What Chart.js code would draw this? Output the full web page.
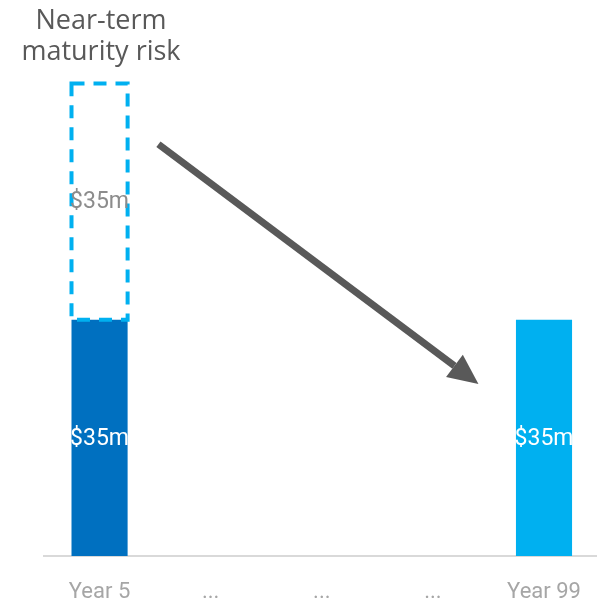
<!DOCTYPE html>
<html>
<head>
<meta charset="utf-8">
<script src="https://cdn.jsdelivr.net/npm/chart.js@4/dist/chart.umd.min.js"></script>
<style>
    html, body { margin: 0; padding: 0; background: #fff; overflow: hidden; }
    #wrap { position: relative; width: 597px; height: 602px; overflow: hidden; }
    #title {
        position: absolute; left: 0; top: 3px; width: 202px;
        text-align: center; font-family: "Open Sans", sans-serif;
        font-size: 27px; line-height: 31px; color: #595959;
    }
</style>
</head>
<body>
<div id="wrap">
    <canvas id="chart" width="604" height="602"></canvas>
    <div id="title">Near-term<br>maturity risk</div>
</div>
<script>
const categories = ["Year 5", "...", "...", "...", "Year 99"];
const fundedValues = [35, null, null, null, 35];
const riskValues = [35, null, null, null, null];
const barColors = ["#0070C0", "#0070C0", "#0070C0", "#0070C0", "#00B0F0"];
const valueLabels = ["$35m", "", "", "", "$35m"];
const riskLabels = ["$35m", "", "", "", ""];

// arrow from data space: [index, value]
const arrowFrom = [0.53, 61];
const arrowTo = [3.41, 25.5];

const dashedBars = {
    id: "dashedBars",
    afterDatasetsDraw(chart) {
        const ctx = chart.ctx;
        const meta = chart.getDatasetMeta(1);
        meta.data.forEach((bar, i) => {
            if (riskValues[i] == null) return;
            const { x, y, base, width } = bar.getProps(["x", "y", "base", "width"], true);
            ctx.save();
            ctx.strokeStyle = "#00B0F0";
            ctx.lineWidth = 4;
            ctx.setLineDash([13, 9]);
            ctx.strokeRect(x - width / 2, y, width, base - y);
            ctx.restore();
        });
    },
};

const barLabels = {
    id: "barLabels",
    afterDatasetsDraw(chart) {
        const ctx = chart.ctx;
        ctx.save();
        ctx.font = "23px Roboto";
        ctx.textAlign = "center";
        ctx.textBaseline = "middle";
        [[0, valueLabels, "#ffffff"], [1, riskLabels, "#8c8c8c"]].forEach(([ds, labels, color]) => {
            chart.getDatasetMeta(ds).data.forEach((bar, i) => {
                if (!labels[i]) return;
                const { x, y, base } = bar.getProps(["x", "y", "base"], true);
                ctx.fillStyle = color;
                ctx.fillText(labels[i], x, (y + base) / 2 + 1);
            });
        });
        ctx.restore();
    },
};

const arrow = {
    id: "arrow",
    afterDraw(chart) {
        const xs = chart.scales.x, ys = chart.scales.y;
        const step = xs.getPixelForValue(1) - xs.getPixelForValue(0);
        const x0 = xs.getPixelForValue(0) + arrowFrom[0] * step;
        const y0 = ys.getPixelForValue(arrowFrom[1]);
        const x1 = xs.getPixelForValue(0) + arrowTo[0] * step;
        const y1 = ys.getPixelForValue(arrowTo[1]);
        const ang = Math.atan2(y1 - y0, x1 - x0);
        const headLen = 30, headW = 14;
        const bx = x1 - headLen * Math.cos(ang), by = y1 - headLen * Math.sin(ang);
        const ctx = chart.ctx;
        ctx.save();
        ctx.strokeStyle = "#595959";
        ctx.fillStyle = "#595959";
        ctx.lineWidth = 7;
        ctx.beginPath();
        ctx.moveTo(x0, y0);
        ctx.lineTo(bx, by);
        ctx.stroke();
        ctx.beginPath();
        ctx.moveTo(x1, y1);
        ctx.lineTo(bx + headW * Math.sin(ang), by - headW * Math.cos(ang));
        ctx.lineTo(bx - headW * Math.sin(ang), by + headW * Math.cos(ang));
        ctx.closePath();
        ctx.fill();
        ctx.restore();
    },
};

new Chart(document.getElementById("chart"), {
    type: "bar",
    data: {
        labels: categories,
        datasets: [
            { data: fundedValues, backgroundColor: barColors, borderWidth: 0 },
            { data: riskValues, backgroundColor: "rgba(0,0,0,0)", borderWidth: 0 },
        ],
    },
    options: {
        responsive: false,
        animation: false,
        events: [],
        layout: { padding: { left: 44, right: 1, top: 16, bottom: 0 } },
        plugins: { legend: { display: false }, tooltip: { enabled: false } },
        datasets: { bar: { categoryPercentage: 1, barPercentage: 0.505 } },
        scales: {
            x: {
                stacked: true,
                grid: { display: false, drawTicks: false },
                border: { color: "#d9d9d9", width: 2 },
                ticks: { color: "#a6a6a6", font: { family: "Roboto", size: 22 }, padding: 23, maxRotation: 0, autoSkip: false },
                afterFit(scale) { scale.height = 46; },
            },
            y: { stacked: true, display: false, min: 0, max: 80 },
        },
    },
    plugins: [dashedBars, barLabels, arrow],
});
</script>
</body>
</html>
